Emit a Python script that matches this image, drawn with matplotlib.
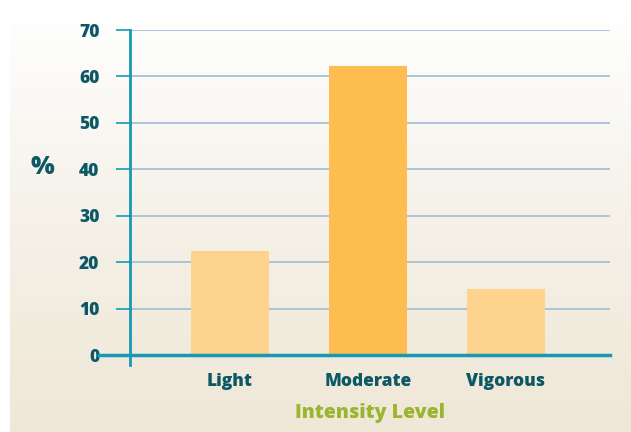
import numpy as np
import matplotlib
matplotlib.use("Agg")
import matplotlib.pyplot as plt
from matplotlib.patches import FancyBboxPatch

categories = ["Light", "Moderate", "Vigorous"]
values = [22.4, 62.2, 14.2]
bar_colors = ["#FDD38E", "#FDBE4F", "#FDD38E"]
yticks = [0, 10, 20, 30, 40, 50, 60, 70]

teal = "#1699B3"
dark = "#0C5866"
grid = "#9FBDD0"
olive = "#9AB52E"

plt.rcParams["font.family"] = ["Open Sans", "DejaVu Sans"]

fig = plt.figure(figsize=(6.31, 4.32), dpi=100)
fig.patch.set_facecolor("white")

# gradient background in a rounded box
bg = fig.add_axes([0, 0, 1, 1], zorder=0)
bg.set_xlim(0, 631)
bg.set_ylim(432, 0)
bg.axis("off")
grad = np.linspace(0, 1, 256).reshape(-1, 1)
cmap = matplotlib.colors.LinearSegmentedColormap.from_list("bg", ["#FFFFFF", "#F5F1E8", "#EFE7D6"])
im = bg.imshow(grad, extent=[10, 640, 440, 10], cmap=cmap, aspect="auto")
box = FancyBboxPatch((10, 10), 640, 440, boxstyle="round,pad=0,rounding_size=18",
                     transform=bg.transData, facecolor="none", edgecolor="none")
bg.add_patch(box)
im.set_clip_path(box)

ax = fig.add_axes([130 / 631, (432 - 355) / 432, 480 / 631, 325 / 432], zorder=1)
ax.patch.set_alpha(0)
x = np.arange(len(categories))
ax.bar(x, values, width=0.57, color=bar_colors, zorder=2)
ax.set_xlim(-0.725, 2.754)
ax.set_ylim(0, 70)
ax.set_yticks(yticks)
ax.set_yticklabels([str(t) for t in yticks], fontsize=12.5, fontweight="heavy", color=dark)
ax.set_xticks(x)
ax.set_xticklabels(categories, fontsize=12.5, fontweight="heavy", color=dark)
ax.tick_params(axis="x", length=0, pad=13)
ax.tick_params(axis="y", length=10, width=1.2, color=teal, pad=12)
for t in yticks[1:]:
    ax.axhline(t, color=grid, lw=1.2, zorder=1)
for s in ["top", "right", "bottom"]:
    ax.spines[s].set_visible(False)
ax.spines["left"].set_color(teal)
ax.spines["left"].set_linewidth(2)
ax.spines["left"].set_bounds(-2.2, 70)
ax.plot([-0.95, 2.754], [0, 0], color=teal, lw=2.5, clip_on=False, zorder=3)

ax.set_xlabel("Intensity Level", fontsize=14, fontweight="heavy", color=olive, labelpad=9)
fig.text(42 / 631, 1 - 168 / 432, "%", fontsize=18, fontweight="heavy", color=dark,
         ha="center", va="center")

fig.savefig("out.png", dpi=100)
